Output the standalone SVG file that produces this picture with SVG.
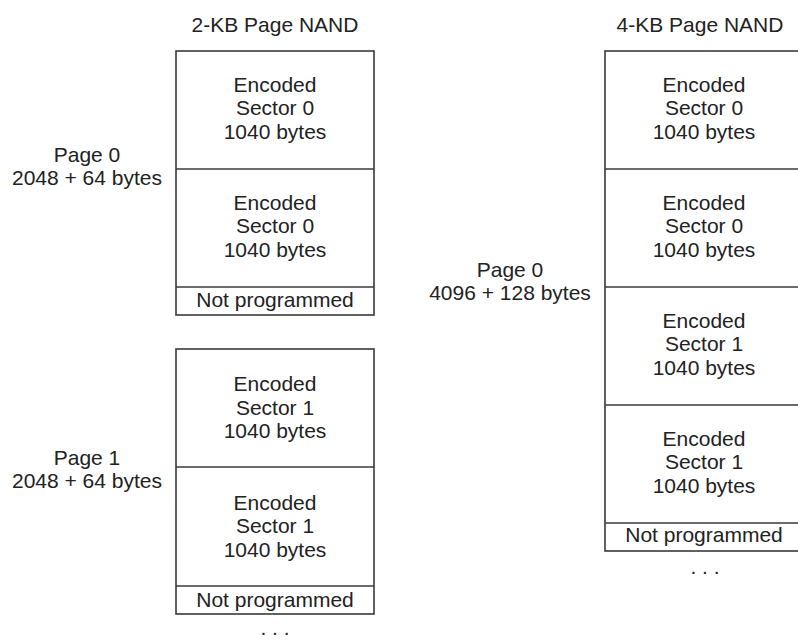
<svg xmlns="http://www.w3.org/2000/svg" width="798" height="641" viewBox="0 0 798 641">
<style>
text{font-family:"Liberation Sans",Arial,sans-serif;font-size:21px;fill:#222;text-anchor:middle}
.box{fill:none;stroke:#3a3a3a;stroke-width:1.6}
.div{stroke:#3a3a3a;stroke-width:1.6}
</style>
<rect width="798" height="641" fill="#fff"/>
<g id="left-title"><text x="275" y="31.5">2-KB Page NAND</text></g>
<g id="right-title"><text x="700" y="31.5">4-KB Page NAND</text></g>

<g id="left-page0-label"><text x="87" y="161.5">Page 0</text><text x="87" y="185">2048 + 64 bytes</text></g>
<g id="left-page1-label"><text x="87" y="464.5">Page 1</text><text x="87" y="488">2048 + 64 bytes</text></g>
<g id="right-page0-label"><text x="510" y="276.5">Page 0</text><text x="510" y="300">4096 + 128 bytes</text></g>

<g id="left-page0">
<rect class="box" x="176" y="51" width="198" height="264"/>
<line class="div" x1="176" y1="169" x2="374" y2="169"/>
<line class="div" x1="176" y1="287" x2="374" y2="287"/>
<text x="275" y="91.5">Encoded</text><text x="275" y="115">Sector 0</text><text x="275" y="138.5">1040 bytes</text>
<text x="275" y="209.5">Encoded</text><text x="275" y="233">Sector 0</text><text x="275" y="256.5">1040 bytes</text>
<text x="275" y="306.5">Not programmed</text>
</g>

<g id="left-page1">
<rect class="box" x="176" y="349" width="198" height="265"/>
<line class="div" x1="176" y1="467" x2="374" y2="467"/>
<line class="div" x1="176" y1="586" x2="374" y2="586"/>
<text x="275" y="391">Encoded</text><text x="275" y="414.5">Sector 1</text><text x="275" y="438">1040 bytes</text>
<text x="275" y="509.5">Encoded</text><text x="275" y="533">Sector 1</text><text x="275" y="556.5">1040 bytes</text>
<text x="275" y="606.5">Not programmed</text>
</g>

<g id="right-page0">
<rect class="box" x="605" y="51" width="198" height="500"/>
<line class="div" x1="605" y1="169" x2="803" y2="169"/>
<line class="div" x1="605" y1="287" x2="803" y2="287"/>
<line class="div" x1="605" y1="405" x2="803" y2="405"/>
<line class="div" x1="605" y1="523" x2="803" y2="523"/>
<text x="704" y="91.5">Encoded</text><text x="704" y="115">Sector 0</text><text x="704" y="138.5">1040 bytes</text>
<text x="704" y="209.5">Encoded</text><text x="704" y="233">Sector 0</text><text x="704" y="256.5">1040 bytes</text>
<text x="704" y="327.5">Encoded</text><text x="704" y="351">Sector 1</text><text x="704" y="374.5">1040 bytes</text>
<text x="704" y="445.5">Encoded</text><text x="704" y="469">Sector 1</text><text x="704" y="492.5">1040 bytes</text>
<text x="704" y="542">Not programmed</text>
</g>

<g id="connectors"></g>
<g id="ellipses">
<text x="275" y="635">. . .</text>
<text x="705" y="574">. . .</text>
</g>
</svg>
